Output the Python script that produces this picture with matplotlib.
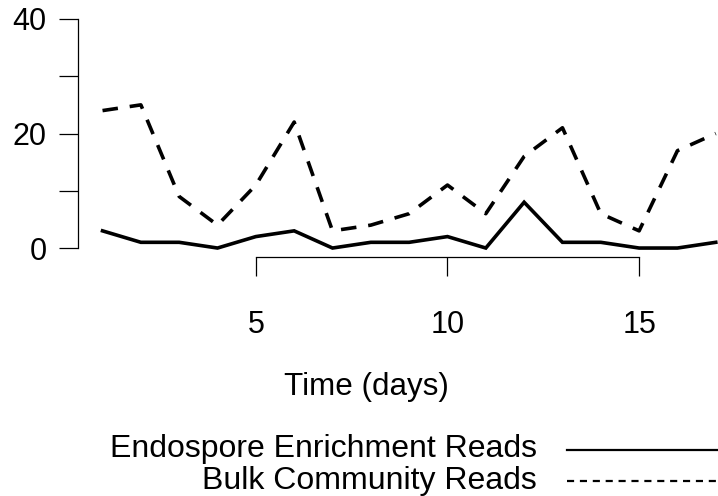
import matplotlib
matplotlib.use("Agg")
import matplotlib.pyplot as plt
from matplotlib.lines import Line2D

plt.rcParams['font.family'] = ['Liberation Sans', 'DejaVu Sans']

days = list(range(1, 18))
endospore = [3, 1, 1, 0, 2, 3, 0, 1, 1, 2, 0, 8, 1, 1, 0, 0, 1]
bulk = [24, 25, 9, 4, 11, 22, 3, 4, 6, 11, 6, 16, 21, 6, 3, 17, 20]
yticks = [0, 10, 20, 30, 40]
ylabels = ['0', '', '20', '', '40']
xticks = [5, 10, 15]
xlabels = ['5', '10', '15']
series_names = ['Endospore Enrichment Reads', 'Bulk Community Reads']

W, H = 718, 496
fig = plt.figure(figsize=(W / 100, H / 100), dpi=100)
ax = fig.add_axes([78 / W, 1 - 257.2 / H, 662.3 / W, 247.4 / H])

ax.plot(days, endospore, color='black', lw=2.6, solid_joinstyle='miter', clip_on=False)
ax.plot(days, bulk, color='black', lw=2.6, linestyle=(0, (4.3, 3.3)), clip_on=False)

ax.set_xlim(0.36, 17.64)
ax.set_ylim(-1.6, 41.6)

for s in ['top', 'right']:
    ax.spines[s].set_visible(False)
ax.spines['left'].set_bounds(0, 40)
ax.spines['bottom'].set_bounds(5, 15)
for s in ['left', 'bottom']:
    ax.spines[s].set_linewidth(0.9)

ax.set_yticks(yticks)
ax.set_yticklabels(ylabels)
ax.set_xticks(xticks)
ax.set_xticklabels(xlabels)
ax.tick_params(axis='both', direction='out', length=13.7, width=0.9, labelsize=22)
ax.tick_params(axis='y', pad=9)
ax.tick_params(axis='x', pad=24)

fig.text(366.5 / W, 1 - 395 / H, 'Time (days)', ha='center', va='baseline', fontsize=22.6)

fig.text(537 / W, 1 - 457 / H, series_names[0], ha='right', va='baseline', fontsize=23)
fig.text(537 / W, 1 - 489 / H, series_names[1], ha='right', va='baseline', fontsize=23)

fig.add_artist(Line2D([567 / W, 718 / W], [1 - 450 / H, 1 - 450 / H],
                      transform=fig.transFigure, color='black', lw=1.6))
fig.add_artist(Line2D([567 / W, 718 / W], [1 - 481 / H, 1 - 481 / H],
                      transform=fig.transFigure, color='black', lw=1.6,
                      linestyle=(0, (3.2, 2.6))))

fig.savefig('out.png', dpi=100)
